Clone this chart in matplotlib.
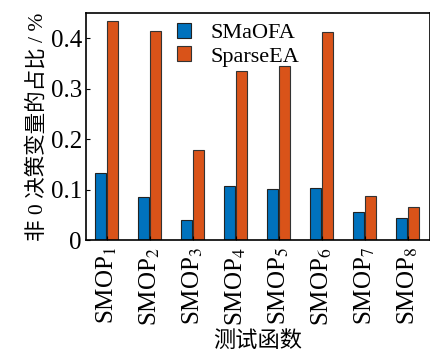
import matplotlib.pyplot as plt
import numpy as np

problems = ['SMOP$_{1}$', 'SMOP$_{2}$', 'SMOP$_{3}$', 'SMOP$_{4}$',
            'SMOP$_{5}$', 'SMOP$_{6}$', 'SMOP$_{7}$', 'SMOP$_{8}$']
smaofa = [0.133, 0.085, 0.040, 0.107, 0.102, 0.104, 0.055, 0.043]
sparseea = [0.434, 0.415, 0.178, 0.335, 0.345, 0.412, 0.088, 0.066]
yticks = [0, 0.1, 0.2, 0.3, 0.4]
yticklabels = ['0', '0.1', '0.2', '0.3', '0.4']

plt.rcParams['font.family'] = ['Liberation Serif', 'Noto Sans CJK SC']
plt.rcParams['mathtext.fontset'] = 'stix'

fig = plt.figure(figsize=(4.30, 3.53), dpi=100)
ax = fig.add_axes([0.200, 0.320, 0.800, 0.643])

x = np.arange(len(problems))
w = 0.25
ax.bar(x - 0.14, smaofa, w, color='#0072BD', edgecolor='#222222', lw=0.8, label='SMaOFA')
ax.bar(x + 0.14, sparseea, w, color='#D95319', edgecolor='#333333', lw=0.8, label='SparseEA')

ax.set_xlim(-0.48, 7.52)
ax.set_ylim(0, 0.45)
ax.set_yticks(yticks)
ax.set_yticklabels(yticklabels, fontsize=18)
ax.set_xticks(x)
ax.set_xticklabels(problems, rotation=90, fontsize=18)
ax.tick_params(direction='in', length=3, width=0.8)
ax.tick_params(axis='x', pad=5)
ax.tick_params(axis='y', pad=3)
for s in ax.spines.values():
    s.set_linewidth(1.2)

ax.set_ylabel('非 0 决策变量的占比 / %', fontsize=15.5, labelpad=2)
ax.set_xlabel('测试函数', fontsize=16, labelpad=4)

ax.legend(loc='upper left', bbox_to_anchor=(0.205, 1.045), frameon=False, fontsize=16,
          handlelength=0.65, handleheight=0.65, handletextpad=0.9, labelspacing=0.15)

fig.savefig('out.png', dpi=100)
